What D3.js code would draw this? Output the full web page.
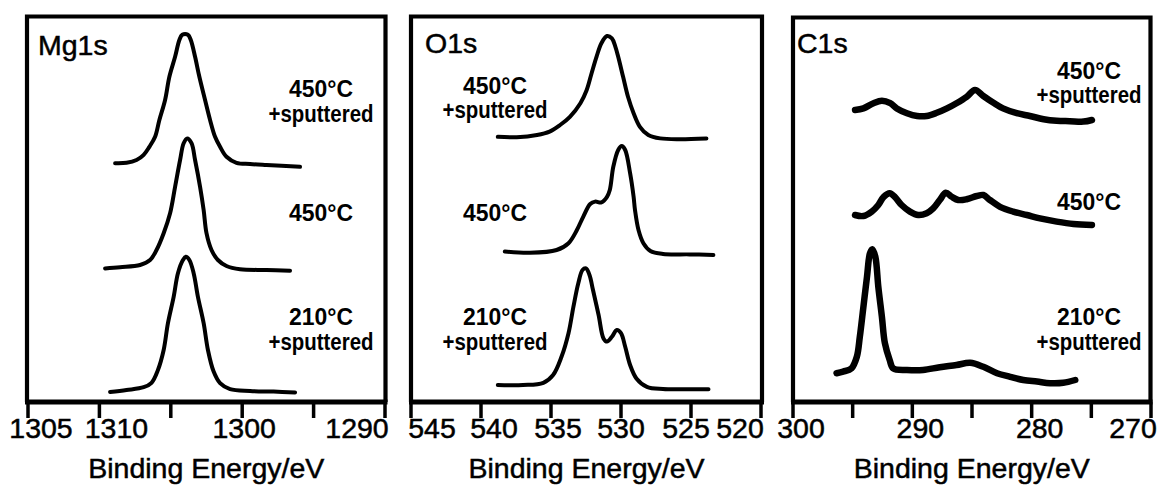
<!DOCTYPE html>
<html>
<head>
<meta charset="utf-8">
<script src="https://cdn.jsdelivr.net/npm/d3@7"></script>
<style>
  html, body { margin: 0; padding: 0; background: #fff; }
  svg { display: block; font-family: "Liberation Sans", Arial, sans-serif; }
</style>
</head>
<body>
<svg id="chart" width="1166" height="486"></svg>
<script>
// XPS spectra: [binding energy (eV), intensity (a.u., offset for stacking)]
const mg450Sputtered = [[1308.9,59.7],[1308.1,59.8],[1307.4,60.5],[1306.9,61.8],[1306.5,63.8],[1306.1,66.3],[1305.8,70.5],[1305.4,75.5],[1305.1,81.3],[1304.7,86.3],[1304.4,90.5],[1304.2,91.8],[1303.8,91.8],[1303.6,90.5],[1303.3,86.3],[1303.0,81.3],[1302.6,75.5],[1302.25,70.5],[1301.9,66.3],[1301.55,63.8],[1301.1,61.3],[1300.4,59.8],[1299.45,59.5],[1298.3,59.25],[1295.95,58.8]];
const mg450 = [[1309.6,33.4],[1308.55,33.7],[1307.15,34.25],[1306.45,35.5],[1306.0,38],[1305.5,42.2],[1305.05,47.2],[1304.7,53.8],[1304.35,60.5],[1304.1,64.7],[1303.85,65.9],[1303.55,64.7],[1303.3,60.5],[1302.95,53.8],[1302.7,48],[1302.5,42.2],[1302.15,38],[1301.7,35.5],[1301.1,34],[1300.15,33.2],[1298.3,33],[1296.65,32.8]];
const mg210Sputtered = [[1309.25,2.5],[1308.1,3],[1306.9,3.7],[1306.35,4.8],[1305.9,8],[1305.5,13],[1305.2,19.7],[1304.8,26.3],[1304.5,32.2],[1304.15,35.5],[1303.95,36.3],[1303.7,35.5],[1303.4,32.2],[1303.1,26.3],[1302.7,19.7],[1302.4,13],[1302.0,7.6],[1301.55,4.7],[1300.85,3.2],[1299.45,2.75],[1297.8,2.6],[1296.3,2.4]];

const o450Sputtered = [[538.8,66.3],[537.45,66.2],[536.0,66.75],[535.1,67.6],[534.35,69.25],[533.65,71.3],[532.9,74.7],[532.45,78],[532.1,82.2],[531.75,86.3],[531.4,89.7],[531.0,91.5],[530.65,90.9],[530.4,88.8],[530.2,86.3],[529.85,81.3],[529.5,76.3],[529.1,72.2],[528.65,68.8],[528.05,66.75],[527.2,65.9],[525.8,65.7],[523.9,65.9]];
const o450 = [[538.3,37.6],[536.5,37.3],[534.6,38],[533.75,39.7],[533.15,43],[532.7,46.3],[532.2,49.5],[531.85,50.1],[531.4,49.9],[531.0,51.3],[530.8,53],[530.55,58.8],[530.2,63],[529.95,64],[529.7,63],[529.35,57.2],[529.1,51.3],[529.0,48],[528.75,43],[528.4,39.7],[527.9,37.75],[527.0,37],[525.1,36.9],[523.4,36.75]];
const o210Sputtered = [[538.8,4.25],[537.0,4.25],[535.55,4.8],[534.85,6.75],[534.25,11.3],[533.75,17.2],[533.4,23.8],[533.05,29.7],[532.75,33],[532.5,33.4],[532.25,31.75],[532.0,28],[531.6,21.75],[531.25,15.9],[531.0,15.1],[530.65,16.3],[530.3,18],[530.0,17.2],[529.7,13.8],[529.35,9.25],[528.9,5.9],[528.15,3.8],[527.0,3.25],[525.1,3.2],[523.75,3.2]];

const c450Sputtered = [[294.8,73],[294.1,73.4],[293.25,74.7],[292.55,75.3],[291.85,74.7],[291.3,73.4],[290.45,72.2],[289.6,71.5],[288.8,71.5],[287.95,72.3],[287.1,73.4],[286.3,74.7],[285.45,76.3],[284.75,78],[284.05,76.5],[283.2,74.8],[282.4,73.4],[281.25,72.2],[280.15,71.5],[279.0,70.7],[277.9,70.3],[276.8,70.2],[275.65,70.1],[274.95,70.5]];
const c450 = [[294.8,46.75],[294.1,46.5],[293.4,47.6],[292.85,49.25],[292.4,51.3],[291.9,52.2],[291.45,51.2],[290.9,49.25],[290.2,47.6],[289.5,46.75],[288.8,47.2],[288.25,48.4],[287.7,50.5],[287.2,52.3],[286.7,51.3],[286.15,50.5],[285.45,50.7],[284.6,51.5],[284.05,51.75],[283.5,50.5],[282.65,48.8],[281.55,47.6],[280.4,46.75],[279.3,45.9],[277.9,45.1],[276.5,44.5],[274.95,44.25]];
const c210Sputtered = [[296.35,7.2],[295.8,7.6],[295.1,8.4],[294.65,11.3],[294.4,16.3],[294.1,23.8],[293.8,31.3],[293.55,37.2],[293.35,38.2],[293.1,36.3],[292.85,28.8],[292.55,21.3],[292.3,14.7],[291.9,10.5],[291.6,8.4],[290.45,8],[289.1,8],[287.7,8.7],[286.3,9.25],[285.15,9.8],[284.05,8.8],[282.9,7.2],[281.8,6.3],[280.7,5.5],[279.55,5.1],[278.45,4.7],[277.35,4.8],[276.35,5.5]];

// Axis ticks and their labels (the first Mg label reads "1305" in the original)
const mgTicks = [1315, 1310, 1305, 1300, 1295, 1290];
const mgTickLabels = ['1305', '1310', '', '1300', '', '1290'];
const oTicks = [545, 540, 535, 530, 525, 520];
const oTickLabels = ['545', '540', '535', '530', '525', '520'];
const cTicks = [300, 295, 290, 285, 280, 275, 270];
const cTickLabels = ['300', '', '290', '', '280', '', '270'];

const panelTitles = ['Mg1s', 'O1s', 'C1s'];
const sampleLabels = [['450°C', '+sputtered'], ['450°C'], ['210°C', '+sputtered']];
const axisTitle = 'Binding Energy/eV';

document.addEventListener('DOMContentLoaded', function() {
    const svg = d3.select('#chart');
    const axisY = 402;

    // y: shared intensity scale for every panel
    const y = d3.scaleLinear().domain([0, 100]).range([axisY, 2]);

    const panels = [
        {
            title: panelTitles[0], titleX: 38, titleY: 55,
            domain: [1315, 1290], range: [28, 385], frame: {left: 27, right: 385.5, top: 16.5},
            ticks: mgTicks, labels: mgTickLabels, labelDx: [13, 17, 0, 2, 0, -28],
            series: [mg450Sputtered, mg450, mg210Sputtered], width: 4,
            textX: 321, textY: [[97, 122], [221], [325, 350]]
        },
        {
            title: panelTitles[1], titleX: 425, titleY: 53,
            domain: [545, 520], range: [411, 761], frame: {left: 411, right: 762, top: 16.5},
            ticks: oTicks, labels: oTickLabels, labelDx: [21, 13, 7, 0, -5, -21],
            series: [o450Sputtered, o450, o210Sputtered], width: 4,
            textX: 495, textY: [[94, 118], [221], [325, 350]]
        },
        {
            title: panelTitles[2], titleX: 797, titleY: 53,
            domain: [300, 270], range: [793, 1151], frame: {left: 793, right: 1150.5, top: 17.5},
            ticks: cTicks, labels: cTickLabels, labelDx: [8, 0, 8, 0, 8, 0, -18],
            series: [c450Sputtered, c450, c210Sputtered], width: 6.5,
            textX: 1089, textY: [[79, 103], [210], [325, 350]]
        }
    ];

    // Widths of the condensed bold sample labels
    const labelWidth = t => (t === '+sputtered' ? 105 : 64);

    panels.forEach(p => {
        const x = d3.scaleLinear().domain(p.domain).range(p.range);
        const g = svg.append('g');

        // Frame (left, top, right)
        g.append('path')
            .attr('d', `M${p.frame.left},${axisY} V${p.frame.top} H${p.frame.right} V${axisY}`)
            .attr('fill', 'none')
            .attr('stroke', '#000')
            .attr('stroke-width', 4.2);

        // Bottom axis line
        g.append('line')
            .attr('x1', p.frame.left - 2).attr('x2', p.frame.right + 2)
            .attr('y1', axisY).attr('y2', axisY)
            .attr('stroke', '#000')
            .attr('stroke-width', 5);

        // Tick marks
        g.selectAll('.tick')
            .data(p.ticks)
            .enter()
            .append('line')
            .attr('class', 'tick')
            .attr('x1', d => x(d)).attr('x2', d => x(d))
            .attr('y1', axisY).attr('y2', axisY + 16)
            .attr('stroke', '#000')
            .attr('stroke-width', 3.5);

        // Tick labels
        g.selectAll('.tick-label')
            .data(p.ticks)
            .enter()
            .append('text')
            .attr('class', 'tick-label')
            .attr('x', (d, i) => x(d) + p.labelDx[i])
            .attr('y', 438)
            .attr('text-anchor', 'middle')
            .attr('stroke', '#000')
            .attr('stroke-width', 0.5)
            .style('font-size', '28.5px')
            .text((d, i) => p.labels[i]);

        // Axis title
        g.append('text')
            .attr('x', (p.frame.left + p.frame.right) / 2)
            .attr('y', 478)
            .attr('text-anchor', 'middle')
            .attr('stroke', '#000')
            .attr('stroke-width', 0.5)
            .style('font-size', '28.5px')
            .text(axisTitle);

        // Panel title
        g.append('text')
            .attr('x', p.titleX)
            .attr('y', p.titleY)
            .attr('stroke', '#000')
            .attr('stroke-width', 0.5)
            .style('font-size', '28.5px')
            .text(p.title);

        // Spectra
        const line = d3.line()
            .x(d => x(d[0]))
            .y(d => y(d[1]))
            .curve(d3.curveCatmullRom.alpha(0.5));

        p.series.forEach((s, i) => {
            g.append('path')
                .datum(s)
                .attr('fill', 'none')
                .attr('stroke', '#000')
                .attr('stroke-width', p.width)
                .attr('stroke-linejoin', 'round')
                .attr('stroke-linecap', 'round')
                .attr('d', line);

            // Sample labels
            sampleLabels[i].forEach((t, j) => {
                g.append('text')
                    .attr('x', p.textX)
                    .attr('y', p.textY[i][j])
                    .attr('text-anchor', 'middle')
                    .attr('textLength', labelWidth(t))
                    .attr('lengthAdjust', 'spacingAndGlyphs')
                    .style('font-size', '23px')
                    .style('font-weight', 'bold')
                    .text(t);
            });
        });
    });
});
</script>
</body>
</html>
